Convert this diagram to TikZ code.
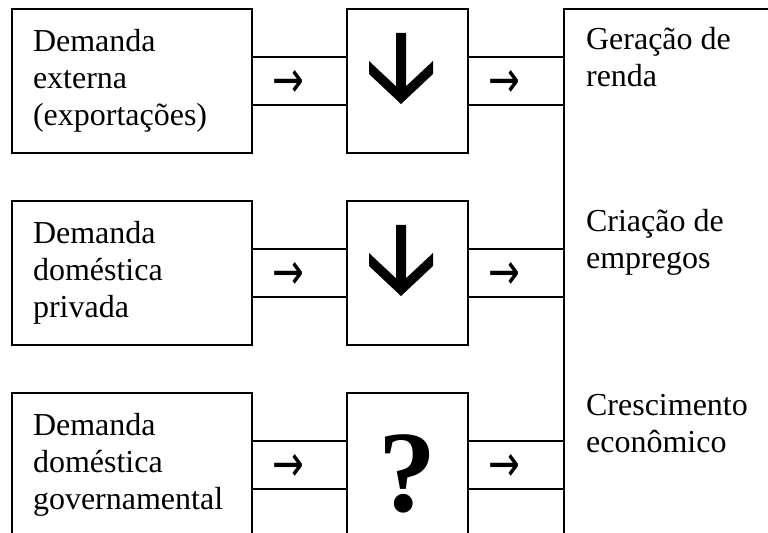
\documentclass[tikz,border=0pt]{standalone}
\usepackage{fontspec}
\usepackage{graphicx}
\setmainfont{Liberation Serif}
\newfontfamily\symfont{DejaVu Sans}
\usetikzlibrary{calc}

\tikzset{
  txt/.style={font=\fontsize{16pt}{18.5pt}\selectfont},
  demand/.style={txt, draw, line width=1.1pt, minimum width=120pt, minimum height=72pt,
                 text width=99pt, inner xsep=10.5pt, inner ysep=0pt, align=left},
  effect/.style={draw, line width=1.1pt, minimum width=60.5pt, minimum height=72pt, inner sep=0pt},
  result/.style={txt, anchor=base west, align=left, inner sep=0pt},
  smallarr/.style={font=\symfont\fontsize{19pt}{19pt}\selectfont, inner sep=0pt},
  qmark/.style={font=\bfseries\fontsize{58pt}{58pt}\selectfont, inner sep=0pt, anchor=base}
}
\newcommand{\smallto}{\scalebox{1}[1.35]{→}}

\begin{document}
\begin{tikzpicture}[x=0.5pt, y=-0.5pt, line width=1.1pt]
  \useasboundingbox (0,0) rectangle (768,533);
  \clip (0,0) rectangle (768,533);

  % demand boxes
  \node[demand] (d1) at (132,81)  {Demanda\\externa\\(exportações)};
  \node[demand] (d2) at (132,273) {Demanda\\doméstica\\privada};
  \node[demand] (d3) at (132,465) {Demanda\\doméstica\\governamental};

  % middle boxes
  \node[effect] (m1) at (407.5,81)  {};
  \node[effect] (m2) at (407.5,273) {};
  \node[effect] (m3) at (407.5,465) {};

  % right panel
  \node[draw, minimum width=118pt, minimum height=275.5pt, inner sep=0pt] (pnl) at (682,284.5) {};

  % channels
  \foreach \i in {1,2,3}{
    \draw ([yshift=12pt]d\i.east) -- ([yshift=12pt]m\i.west);
    \draw ([yshift=-12pt]d\i.east) -- ([yshift=-12pt]m\i.west);
    \path ([yshift=12pt]m\i.east) coordinate (u\i) ([yshift=-12pt]m\i.east) coordinate (l\i);
    \draw (u\i) -- (u\i -| pnl.west);
    \draw (l\i) -- (l\i -| pnl.west);
    \node[smallarr] (a\i) at ([xshift=17.5pt,yshift=-1.5pt]d\i.east) {\smallto};
    \node[smallarr] (b\i) at ([xshift=17.5pt,yshift=-1.5pt]m\i.east) {\smallto};
  }

  % down arrows
  \fill[shift={(m1.center)}] (-11.5,-48) -- (-1.5,-48) -- (-1.5,5.3) -- (25.5,-20) -- (25.5,-7)
        -- (-6.5,23) -- (-38.5,-7) -- (-38.5,-20) -- (-11.5,5.3) -- cycle;
  \fill[shift={(m2.center)}] (-11.5,-48) -- (-1.5,-48) -- (-1.5,5.3) -- (25.5,-20) -- (25.5,-7)
        -- (-6.5,23) -- (-38.5,-7) -- (-38.5,-20) -- (-11.5,5.3) -- cycle;
  \node[qmark] (q3) at ([xshift=0.25pt,yshift=-23.5pt]m3.center) {?};

  % results
  \node[result] (r1) at (585,87)  {Geração de\\renda};
  \node[result] (r2) at (585,269) {Criação de\\empregos};
  \node[result] (r3) at (585,453) {Crescimento\\econômico};
\end{tikzpicture}
\end{document}
